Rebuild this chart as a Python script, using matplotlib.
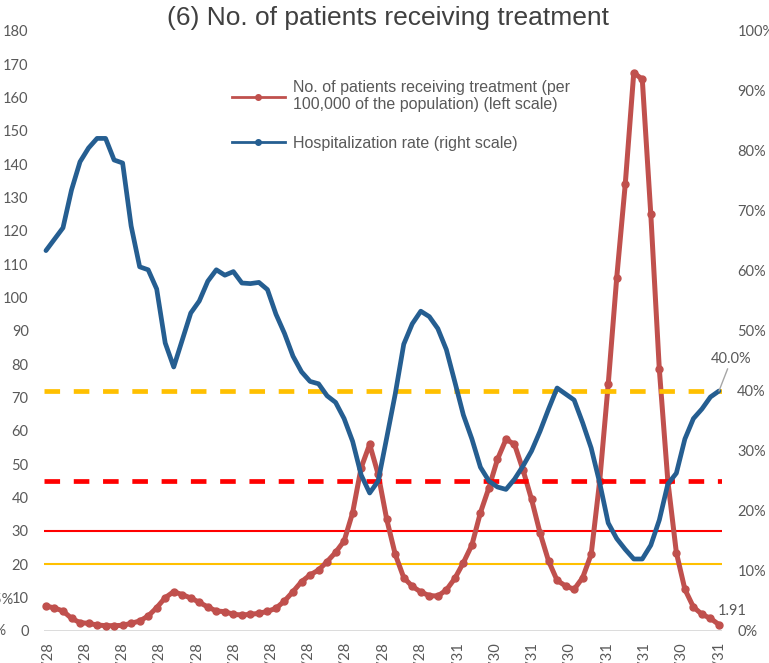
import matplotlib
matplotlib.use('Agg')
import matplotlib.pyplot as plt
import pandas as pd
from matplotlib.lines import Line2D

# weekly values, 2020-04-26 .. 2021-10-31
weeks = pd.date_range('2020-04-26', periods=80, freq='7D')

# patients receiving treatment per 100,000 (left scale)
patients = [7.5, 6.9, 6.0, 3.8, 2.5, 2.3, 1.8, 1.6, 1.6, 1.7,
            2.3, 3.0, 4.5, 7.0, 10.0, 11.8, 10.9, 9.9, 8.6, 7.2,
            6.0, 5.8, 5.0, 4.8, 5.0, 5.3, 5.9, 6.8, 9.0, 11.8,
            14.8, 16.8, 18.3, 20.8, 23.6, 27.0, 35.5, 49.0, 56.0, 47.0,
            33.5, 23.0, 16.0, 13.4, 11.7, 10.6, 10.5, 12.3, 15.8, 20.5,
            25.8, 35.5, 43.0, 51.5, 57.5, 56.0, 48.3, 39.5, 29.4, 21.0,
            15.2, 13.5, 12.5, 16.0, 23.0, 45.0, 74.0, 106.0, 134.0, 167.5,
            165.5, 125.0, 78.5, 45.0, 23.5, 12.5, 7.2, 5.0, 3.8, 1.91]

# hospitalization rate in % (right scale)
hosp_rate = [63.4, 65.3, 67.2, 73.5, 78.2, 80.5, 82.1, 82.1, 78.5, 78.0,
             67.5, 60.7, 60.2, 57.0, 48.0, 44.0, 48.5, 53.0, 55.0, 58.3,
             60.2, 59.3, 59.9, 58.0, 57.9, 58.1, 56.9, 52.8, 49.6, 45.8,
             43.2, 41.6, 41.2, 39.2, 38.1, 35.4, 31.6, 26.0, 23.0, 25.0,
             32.2, 39.5, 47.8, 51.2, 53.3, 52.4, 50.4, 46.9, 41.5, 36.0,
             32.0, 27.3, 25.0, 24.0, 23.6, 25.3, 27.5, 30.0, 33.3, 37.0,
             40.5, 39.5, 38.5, 34.7, 30.5, 24.7, 18.0, 15.4, 13.6, 12.0,
             12.0, 14.3, 18.5, 24.5, 26.3, 32.0, 35.4, 37.0, 39.0, 40.0]

tick_labels = ['2020/4/28', '2020/5/28', '2020/6/28', '2020/7/28', '2020/8/28',
               '2020/9/28', '2020/10/28', '2020/11/28', '2020/12/28', '2021/1/28',
               '2021/2/28', '2021/3/31', '2021/4/30', '2021/5/31', '2021/6/30',
               '2021/7/31', '2021/8/31', '2021/9/30', '2021/10/31']

patients_stage3 = 20
patients_stage4 = 30
hosp_stage3 = 40
hosp_stage4 = 25

RED = '#C0504D'
BLUE = '#255E91'
GRAY = '#595959'
num_font = ['Lato', 'DejaVu Sans']
txt_font = ['Liberation Sans', 'DejaVu Sans']

fig = plt.figure(figsize=(7.69, 6.63), dpi=100)
ax = fig.add_axes([44 / 769, 32 / 663, 678 / 769, 600 / 663])
ax2 = ax.twinx()

# left scale: thresholds and patients
ax.axhline(0, color='#D9D9D9', lw=1.3, zorder=1)
ax.axhline(patients_stage3, color='#FFC000', lw=1.5, zorder=2)
ax.axhline(patients_stage4, color='#FF0000', lw=1.5, zorder=2)
ax.plot(weeks, patients, color=RED, lw=3.6, marker='o', ms=5,
        zorder=3, clip_on=False)
ax.annotate('1.91', xy=(weeks[-1], patients[-1]), xytext=(-1, 9.5),
            textcoords='offset points', ha='left', va='center',
            fontsize=10.5, color=GRAY, family=num_font)

# right scale: thresholds and hospitalization rate
dash = (0, (3.3, 2.9))
ax2.axhline(hosp_stage3, color='#FFC000', lw=3.4, ls=dash, zorder=1)
ax2.axhline(hosp_stage4, color='#FF0000', lw=3.4, ls=dash, zorder=1)
ax2.plot(weeks, hosp_rate, color=BLUE, lw=3.4, zorder=2, clip_on=False,
         solid_joinstyle='round', solid_capstyle='round')
ax2.annotate('40.0%', xy=(weeks[-1], hosp_rate[-1]), xytext=(9, 18),
             textcoords='offset points', ha='center', va='bottom',
             fontsize=10.5, color=GRAY, family=num_font,
             arrowprops=dict(arrowstyle='-', color='#A6A6A6', lw=1,
                             shrinkA=0, shrinkB=0))

ax.set_ylim(0, 180)
ax.set_yticks(range(0, 181, 10))
ax2.set_ylim(0, 100)
ax2.set_yticks(range(0, 101, 10))
ax2.set_yticklabels([f'{v}%' for v in range(0, 101, 10)])

ticks = pd.to_datetime(tick_labels, format='%Y/%m/%d')
ax.set_xticks(ticks)
ax.set_xticklabels(tick_labels, rotation=90)
ax.set_xlim(weeks[0] - pd.Timedelta(days=1.6), weeks[-1] + pd.Timedelta(days=2.5))

for a in (ax, ax2):
    for s in a.spines.values():
        s.set_visible(False)
    a.tick_params(length=0, colors=GRAY, labelsize=10.5)
    for lab in a.get_yticklabels() + a.get_xticklabels():
        lab.set_family(num_font)
ax.tick_params(axis='y', pad=11)
ax2.tick_params(axis='y', pad=11)
ax.tick_params(axis='x', pad=8)

fig.text(388 / 769, 1 - 18 / 663, '(6) No. of patients receiving treatment',
         ha='center', va='center', fontsize=19, color='#404040',
         family=txt_font)

handles = [Line2D([], [], color=RED, lw=2, marker='o', ms=4),
           Line2D([], [], color=BLUE, lw=2, marker='o', ms=4)]
labels = ['No. of patients receiving treatment (per\n100,000 of the population) (left scale)',
          'Hospitalization rate (right scale)']
leg = fig.legend(handles, labels, loc='upper left',
                 bbox_to_anchor=(232 / 769, 1 - 80 / 663),
                 bbox_transform=fig.transFigure, frameon=False,
                 borderpad=0, borderaxespad=0, handlelength=3.3,
                 handletextpad=0.5, labelspacing=1.45,
                 prop={'family': txt_font, 'size': 11.5})
for t in leg.get_texts():
    t.set_color(GRAY)

# cut-off labels of the neighbouring chart on the left edge
fig.text(14 / 769, 1 - 600 / 663, '2.5%', ha='right', va='center',
         fontsize=10.5, color=GRAY, family=num_font)
fig.text(7 / 769, 1 - 631 / 663, '0%', ha='right', va='center',
         fontsize=10.5, color=GRAY, family=num_font)

fig.savefig('out.png', dpi=100)
